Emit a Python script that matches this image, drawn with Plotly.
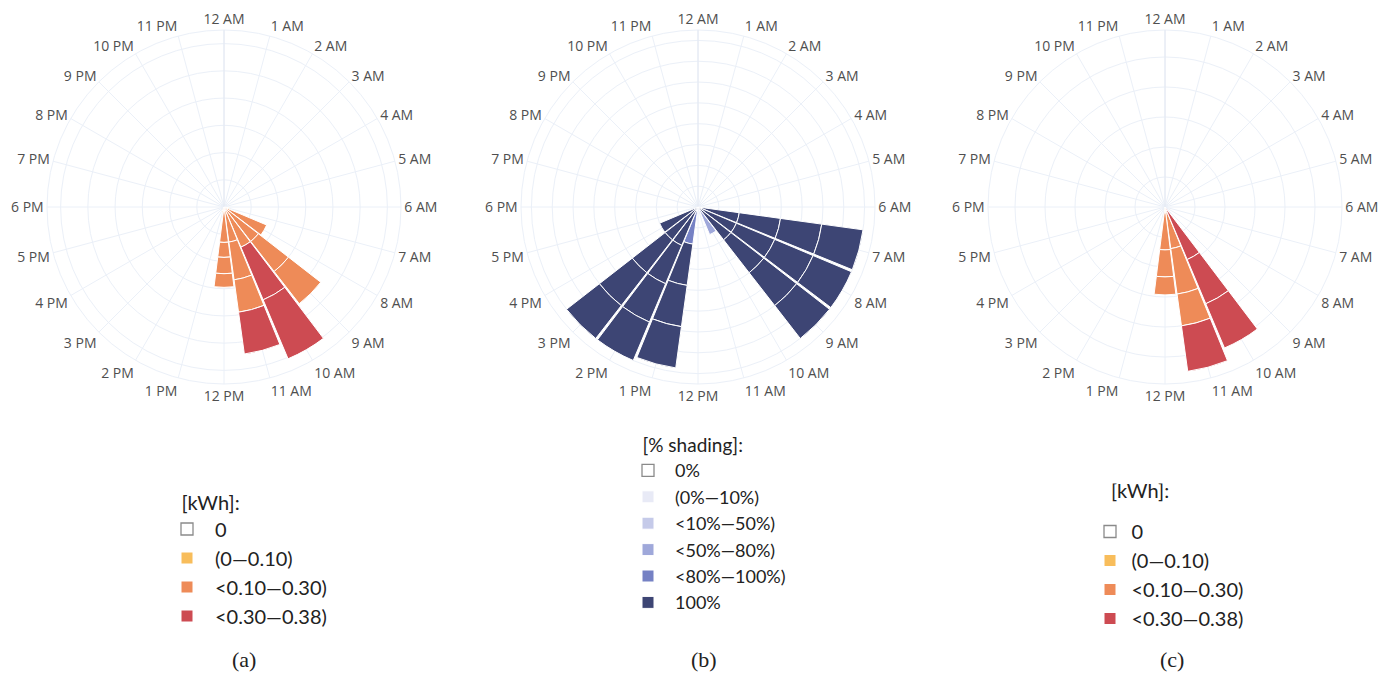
import plotly.graph_objects as go

# ---------------- data ----------------
HOURS = ["12 AM", "1 AM", "2 AM", "3 AM", "4 AM", "5 AM", "6 AM", "7 AM", "8 AM",
         "9 AM", "10 AM", "11 AM", "12 PM", "1 PM", "2 PM", "3 PM", "4 PM", "5 PM",
         "6 PM", "7 PM", "8 PM", "9 PM", "10 PM", "11 PM"]

# (a) energy [kWh] - stacked segments (hour, bin, r)
A_BINS = ["0", "(0\u20140.10)", "<0.10\u20140.30)", "<0.30\u20140.38)"]
A_COLORS = ["#FFFFFF", "#F8BD5B", "#EE8B58", "#CD4B52"]
A_HOUR = ["12 AM",
          "7 AM", "1 PM",
          "8 AM", "9 AM", "9 AM", "9 AM", "10 AM", "11 AM", "11 AM", "11 AM",
          "12 PM", "12 PM", "12 PM", "12 PM",
          "10 AM", "10 AM", "11 AM"]
A_BIN = ["0",
         "(0\u20140.10)", "(0\u20140.10)",
         "<0.10\u20140.30)", "<0.10\u20140.30)", "<0.10\u20140.30)", "<0.10\u20140.30)",
         "<0.10\u20140.30)", "<0.10\u20140.30)", "<0.10\u20140.30)", "<0.10\u20140.30)",
         "<0.10\u20140.30)", "<0.10\u20140.30)", "<0.10\u20140.30)", "<0.10\u20140.30)",
         "<0.30\u20140.38)", "<0.30\u20140.38)", "<0.30\u20140.38)"]
A_R = [0,
       0.02, 0.02,
       0.17, 0.16, 0.14, 0.15, 0.16, 0.13, 0.14, 0.12,
       0.13, 0.055, 0.06, 0.05,
       0.21, 0.235, 0.155]

# (b) shading [%]
B_BINS = ["0%", "(0%\u201410%)", "<10%\u201450%)", "<50%\u201480%)", "<80%\u2014100%)", "100%"]
B_COLORS = ["#FFFFFF", "#E8EAF6", "#C5CAE9", "#9FA8DA", "#7581C4", "#3D4574"]
B_HOUR = ["12 AM", "12 AM", "12 AM",
          "10 AM", "1 PM",
          "7 AM", "7 AM", "7 AM", "7 AM", "8 AM", "8 AM", "8 AM", "8 AM",
          "9 AM", "9 AM", "9 AM", "9 AM", "1 PM", "1 PM", "1 PM",
          "2 PM", "2 PM", "2 PM", "2 PM", "3 PM", "3 PM", "3 PM", "3 PM", "4 PM"]
B_BIN = ["0%", "(0%\u201410%)", "<10%\u201450%)",
         "<50%\u201480%)", "<80%\u2014100%)"] + ["100%"] * 24
B_R = [0, 0, 0, 72, 90] + [100] * 24

# (c) energy with shading [kWh]
C_HOUR = ["12 AM",
          "11 AM", "12 PM",
          "11 AM", "11 AM", "11 AM", "12 PM", "12 PM", "12 PM",
          "10 AM", "10 AM", "10 AM", "11 AM"]
C_BIN = ["0",
         "(0\u20140.10)", "(0\u20140.10)",
         "<0.10\u20140.30)", "<0.10\u20140.30)", "<0.10\u20140.30)",
         "<0.10\u20140.30)", "<0.10\u20140.30)", "<0.10\u20140.30)",
         "<0.30\u20140.38)", "<0.30\u20140.38)", "<0.30\u20140.38)", "<0.30\u20140.38)"]
C_R = [0,
       0.02, 0.02,
       0.12, 0.153, 0.107, 0.123, 0.09, 0.06,
       0.19, 0.16, 0.16, 0.153]

PANEL_LABELS = ["(a)", "(b)", "(c)"]

# ---------------- figure ----------------
fig = go.Figure()


def add_panel(hours, bins, values, bin_names, colors, subplot, legend):
    for name, col in zip(bin_names, colors):
        idx = [i for i, b in enumerate(bins) if b == name]
        is_zero = col.upper() == "#FFFFFF"
        fig.add_trace(go.Barpolar(
            r=[values[i] for i in idx],
            theta=[hours[i] for i in idx],
            name=name,
            subplot=subplot,
            legend=legend,
            marker=dict(color=col,
                        line=dict(color="#8a8a8a" if is_zero else "white",
                                  width=1.3 if is_zero else 1)),
            hoverinfo="skip",
        ))


add_panel(A_HOUR, A_BIN, A_R, A_BINS, A_COLORS, "polar", "legend")
add_panel(B_HOUR, B_BIN, B_R, B_BINS, B_COLORS, "polar2", "legend2")
add_panel(C_HOUR, C_BIN, C_R, A_BINS, A_COLORS, "polar3", "legend3")

W, H = 1392, 677
CY, RAD = 207, 177
ydom = [(H - CY - RAD) / H, (H - CY + RAD) / H]
GRID = "#EBF0F8"


def polar_cfg(cx, rmax, dtick):
    return dict(
        domain=dict(x=[(cx - RAD) / W, (cx + RAD) / W], y=ydom),
        bgcolor="white",
        bargap=0.05,
        angularaxis=dict(type="category", categoryorder="array", categoryarray=HOURS,
                         rotation=90, direction="clockwise",
                         showline=True, linecolor=GRID, gridcolor=GRID, ticks="",
                         tickfont=dict(family="Open Sans", size=14, color="#4f4f4f")),
        radialaxis=dict(range=[0, rmax], dtick=dtick, tick0=0, angle=90,
                        showticklabels=False, ticks="", showline=True,
                        linecolor="#E3E8F2", gridcolor=GRID),
    )


leg_common = dict(bgcolor="rgba(0,0,0,0)", xanchor="left", yanchor="top",
                  traceorder="normal")

fig.update_layout(
    width=W, height=H,
    margin=dict(l=0, r=0, t=0, b=0),
    template="plotly_white",
    paper_bgcolor="white",
    font=dict(family="Lato", color="#222222"),
    polar=polar_cfg(224, 0.65, 0.1),
    polar2=polar_cfg(698, 425, 50),
    polar3=polar_cfg(1165, 0.59, 0.1),
    legend=dict(x=159 / W, y=1 - 483.5 / H, itemwidth=46,
                font=dict(family="Lato", size=20, color="#222"),
                title=dict(text="\u00a0\u00a0\u00a0\u00a0[kWh]:",
                           font=dict(family="Lato", size=20, color="#222")),
                **leg_common),
    legend2=dict(x=621 / W, y=1 - 427.5 / H, itemwidth=44,
                 font=dict(family="Lato", size=18, color="#222"),
                 title=dict(text="\u00a0\u00a0\u00a0\u00a0[% shading]:",
                            font=dict(family="Lato", size=19, color="#222")),
                 **leg_common),
    legend3=dict(x=1088.5 / W, y=1 - 483.4 / H, itemwidth=33,
                 font=dict(family="Lato", size=20, color="#222"),
                 title=dict(text="<span style='font-size:20px'>\u00a0\u00a0\u00a0\u00a0[kWh]:</span><br>\u00a0",
                            font=dict(family="Lato", size=11, color="#222")),
                 **leg_common),
)

for lab, xc in zip(PANEL_LABELS, [244, 704, 1172]):
    fig.add_annotation(text=lab, x=xc / W, y=1 - 659 / H, xref="paper", yref="paper",
                       showarrow=False, xanchor="center", yanchor="middle",
                       font=dict(family="Liberation Serif", size=22, color="#222"))

fig.write_html("out.html")
